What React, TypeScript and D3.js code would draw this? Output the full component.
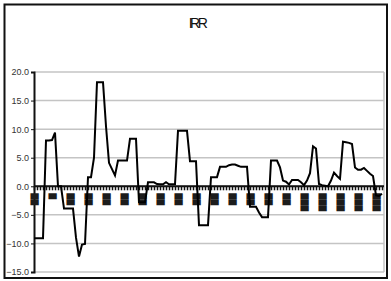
import { useEffect, useRef } from "react";
import * as d3 from "d3";

const title = "IRR";
const yTicks = [20, 15, 10, 5, 0, -5, -10, -15];

// one value per period
const irr = [
  -9.1, -9.1, -9.1, -9.1, 8.0, 8.0, 8.1, 9.4, 0.0, 0.0,
  -3.9, -3.9, -3.9, -3.9, -9.0, -12.3, -10.2, -10.1, 1.6, 1.6,
  5.0, 18.2, 18.2, 18.2, 10.5, 4.1, 3.0, 1.9, 4.5, 4.5,
  4.5, 4.5, 8.3, 8.3, 8.3, -2.8, -2.8, -2.8, 0.7, 0.7,
  0.7, 0.4, 0.35, 0.35, 0.7, 0.35, 0.35, 0.35, 9.7, 9.7,
  9.7, 9.7, 4.4, 4.4, 4.4, -6.8, -6.8, -6.8, -6.8, 1.6,
  1.6, 1.6, 3.4, 3.4, 3.4, 3.7, 3.8, 3.8, 3.6, 3.4,
  3.4, 3.4, -3.6, -3.6, -3.6, -4.6, -5.4, -5.4, -5.4, 4.5,
  4.5, 4.5, 3.3, 1.0, 0.8, 0.3, 1.1, 1.1, 1.1, 0.7,
  0.2, 1.0, 2.3, 7.0, 6.6, 0.4, 0.2, 0.1, 0.0, 1.0,
  2.4, 1.8, 1.3, 7.8, 7.7, 7.6, 7.4, 3.3, 2.9, 2.9,
  3.2, 2.7, 2.2, 1.8, -1.6, -1.7, -1.3,
];

// category labels (the source font has no glyphs for them, they show as blocks)
const labelEvery = 6;
const catLabels = [
  "██", "█", "██", "██", "██", "██", "██", "██", "██", "██",
  "██", "██", "██", "██", "██", "███", "███", "███", "███", "███",
];

export default function App() {
  const svgRef = useRef<SVGSVGElement>(null);

  useEffect(() => {
    const el = svgRef.current;
    if (!el) return;
    d3.select(el).selectAll("*").remove();

    const W = 391;
    const H = 281;
    const m = { top: 72, right: 7, bottom: 9, left: 34 };
    const iw = W - m.left - m.right;
    const ih = H - m.top - m.bottom;

    const svg = d3.select(el).attr("viewBox", `0 0 ${W} ${H}`);

    svg.append("rect").attr("width", W).attr("height", H).attr("fill", "#fff");
    // outer frame
    svg
      .append("rect")
      .attr("x", 4.5)
      .attr("y", 4.5)
      .attr("width", W - 8.5)
      .attr("height", H - 7.5)
      .attr("fill", "none")
      .attr("stroke", "#111")
      .attr("stroke-width", 2);

    svg
      .append("text")
      .attr("x", 197)
      .attr("y", 28)
      .attr("text-anchor", "middle")
      .style("font-family", "Liberation Sans, Arial, sans-serif")
      .style("font-size", "14px")
      .style("letter-spacing", "-2.5px")
      .attr("fill", "#111")
      .text(title);

    const g = svg.append("g").attr("transform", `translate(${m.left},${m.top})`);

    const xs = d3
      .scalePoint<number>()
      .domain(d3.range(irr.length))
      .range([0, iw - 2]);
    const ys = d3.scaleLinear().domain([-15, 20]).range([ih, 0]);

    // gridlines
    g.selectAll(".gy")
      .data(yTicks)
      .enter()
      .append("line")
      .attr("x1", 0)
      .attr("x2", iw)
      .attr("y1", (d) => ys(d))
      .attr("y2", (d) => ys(d))
      .attr("stroke", "#c4c4c4")
      .attr("stroke-width", 1.5);
    g.append("line")
      .attr("x1", iw)
      .attr("x2", iw)
      .attr("y1", 0)
      .attr("y2", ih)
      .attr("stroke", "#c4c4c4")
      .attr("stroke-width", 1.5);

    // y axis
    const yAxis = g
      .append("g")
      .call(d3.axisLeft(ys).tickValues(yTicks).tickSize(3).tickPadding(2).tickFormat(d3.format(".1f")));
    yAxis.select(".domain").attr("stroke", "#111").attr("stroke-width", 2);
    yAxis.selectAll(".tick line").attr("stroke", "#111");
    yAxis
      .selectAll(".tick text")
      .attr("fill", "#333")
      .style("font-family", "Liberation Sans, Arial, sans-serif")
      .style("font-size", "9px");

    // category axis at zero
    const y0 = ys(0);
    g.append("line")
      .attr("x1", 0)
      .attr("x2", iw)
      .attr("y1", y0)
      .attr("y2", y0)
      .attr("stroke", "#111")
      .attr("stroke-width", 2);
    g.selectAll(".xt")
      .data(d3.range(irr.length))
      .enter()
      .append("line")
      .attr("x1", (d) => xs(d)! + 0.5)
      .attr("x2", (d) => xs(d)! + 0.5)
      .attr("y1", y0)
      .attr("y2", y0 + 4)
      .attr("stroke", "#111")
      .attr("stroke-width", 1.5);

    g.selectAll(".xl")
      .data(catLabels)
      .enter()
      .append("text")
      .attr(
        "transform",
        (_d, i) => `translate(${xs(i * labelEvery)! + 0.5},${y0 + 7}) rotate(-90)`,
      )
      .attr("text-anchor", "end")
      .attr("dy", "0.36em")
      .attr("fill", "#1c1c1c")
      .style("font-family", "DejaVu Sans, sans-serif")
      .style("font-size", "7px")
      .attr("textLength", (d) => d.length * 6)
      .attr("lengthAdjust", "spacingAndGlyphs")
      .text((d) => d);

    // series
    const line = d3
      .line<number>()
      .x((_d, i) => xs(i)!)
      .y((d) => ys(d));
    g.append("path")
      .datum(irr)
      .attr("fill", "none")
      .attr("stroke", "#000")
      .attr("stroke-width", 2)
      .attr("stroke-linejoin", "miter")
      .attr("d", line);
  }, []);

  return (
    <svg
      ref={svgRef}
      width={391}
      height={281}
      style={{ position: "fixed", left: 0, top: 0, display: "block" }}
    />
  );
}
